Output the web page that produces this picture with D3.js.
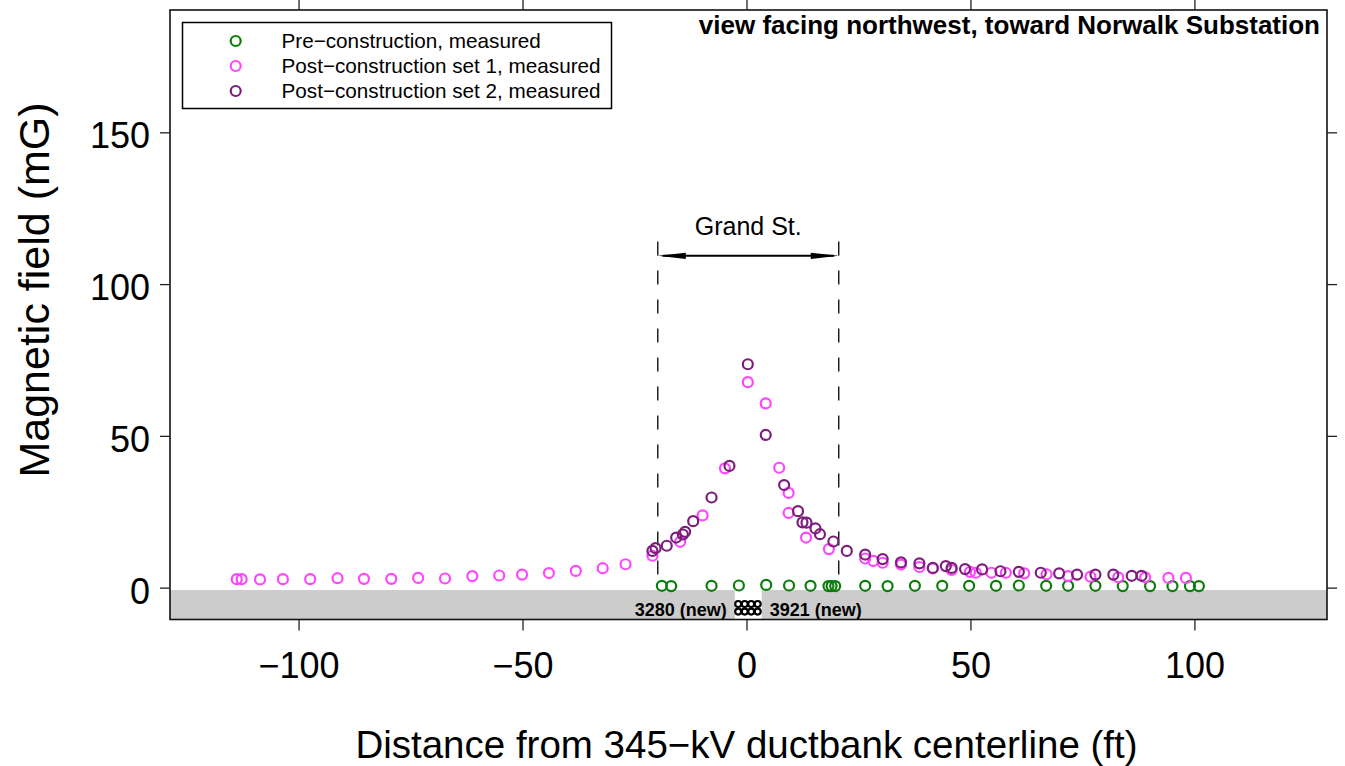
<!DOCTYPE html>
<html><head><meta charset="utf-8">
<script src="https://cdn.jsdelivr.net/npm/d3@7"></script>
<style>
html,body{margin:0;padding:0;background:#fff;}
svg{display:block;font-family:"Liberation Sans",Arial,Helvetica,sans-serif;}
</style></head><body>
<svg id="chart" width="1345" height="766"></svg>
<script>
// Lateral profile of magnetic field across the 345-kV ductbank (distance in ft, field in mG)
const preX = [-18.9, -16.8, -7.8, -1.7, 4.4, 9.5, 14.3, 18.3, 19.0, 19.8, 26.5, 31.5, 37.6, 43.7, 49.7, 55.7, 60.8, 66.9, 71.8, 77.9, 84.0, 90.1, 95.1, 99.0, 101.0];
const preY = [0.6, 0.5, 0.6, 0.7, 0.9, 0.7, 0.6, 0.5, 0.5, 0.5, 0.6, 0.5, 0.6, 0.6, 0.6, 0.6, 0.7, 0.6, 0.6, 0.6, 0.5, 0.5, 0.5, 0.5, 0.5];

const post1X = [-113.8, -112.7, -108.6, -103.5, -97.4, -91.3, -85.4, -79.3, -73.3, -67.3, -61.2, -55.2, -50.1, -44.1, -38.1, -32.1, -27.0, -21.0,
  -14.8, -9.8, -4.8, 0.3, 4.3, 7.3, 9.4, 9.4, 13.3, 18.4,
  26.5, 28.3, 30.4, 34.5, 38.6, 41.6, 45.8, 49.9, 51.2, 54.7, 57.9, 62.0, 67.0, 71.8, 76.8, 83.0, 89.0, 94.2, 98.1];
const post1Y = [2.8, 2.8, 2.7, 2.8, 2.8, 3.1, 2.9, 2.9, 3.2, 3.0, 3.8, 4.0, 4.3, 4.8, 5.5, 6.4, 7.7, 10.5,
  15.1, 23.8, 39.3, 67.7, 60.7, 39.5, 31.2, 24.6, 16.5, 12.7,
  9.6, 8.8, 8.2, 7.6, 6.8, 6.3, 5.8, 5.2, 4.9, 4.9, 4.9, 4.7, 4.4, 3.8, 3.6, 3.4, 3.4, 3.2, 3.2];

const post2X = [-21.0, -20.3, -17.8, -15.7, -14.2, -13.7, -11.9, -7.8, -3.8, 0.3, 4.3, 8.4, 11.5, 12.5, 13.4, 15.4, 16.4, 19.4, 22.4,
  26.5, 30.4, 34.5, 38.6, 41.6, 44.5, 45.8, 48.8, 52.6, 56.7, 60.8, 65.7, 69.8, 73.8, 77.9, 81.9, 86.0, 88.2];
const post2Y = [12.1, 13.0, 13.8, 16.5, 17.5, 18.4, 21.9, 29.7, 40.1, 73.6, 50.3, 33.8, 25.2, 21.5, 21.4, 19.5, 17.6, 15.2, 12.1,
  10.9, 9.4, 8.3, 8.0, 6.5, 7.1, 6.5, 6.1, 6.0, 5.4, 5.2, 4.9, 4.7, 4.3, 4.3, 4.3, 3.9, 3.9];

const xTicks = [-100, -50, 0, 50, 100];
const yTicks = [0, 50, 100, 150];

const seriesNames = ["Pre\u2212construction, measured", "Post\u2212construction set 1, measured", "Post\u2212construction set 2, measured"];
const seriesColors = ["#0b7d0b", "#ff45ff", "#7b1f7b"];

// Street extent (ft) and the cable circuits in the ductbank
const streetEdges = [-19.8, 20.6];
const streetLabel = "Grand St.";
const cableLabels = ["3280 (new)", "3921 (new)"];
const cableCols = [-1.85, -0.4, 1.05, 2.5];
const cableRows = [-5.4, -7.9];
const viewNote = "view facing northwest, toward Norwalk Substation";
const xTitle = "Distance from 345\u2212kV ductbank centerline (ft)";
const yTitle = "Magnetic field (mG)";

const svg = d3.select("#chart");
const L = 170, R = 1327, T = 10, B = 619.5;
const x = d3.scaleLinear().domain([-128.7, 129.6]).range([L, R]);
const y = d3.scaleLinear().domain([-10.5, 190.3]).range([B, T]);
const minus = s => String(s).replace("-", "\u2212");
const ptR = 5, ptW = 2.2;

// ground strip with the trench opening
const groundTop = y(-0.8);
svg.append("rect").attr("x", L).attr("y", groundTop).attr("width", R - L).attr("height", B - groundTop).attr("fill", "#cccccc");
svg.append("rect").attr("x", x(-2.6)).attr("y", groundTop).attr("width", x(3.4) - x(-2.6)).attr("height", B - groundTop).attr("fill", "#ffffff");
const cables = [];
cableCols.forEach(cx => cableRows.forEach(cy => cables.push([cx, cy])));
svg.append("g").selectAll("circle").data(cables).join("circle")
  .attr("cx", d => x(d[0])).attr("cy", d => y(d[1])).attr("r", 3)
  .attr("fill", "none").attr("stroke", "#000").attr("stroke-width", 2.2);
svg.append("text").attr("x", x(-4.4)).attr("y", 615.5).attr("text-anchor", "end")
  .attr("font-size", 18).attr("font-weight", "bold").text(cableLabels[0]);
svg.append("text").attr("x", x(5.2)).attr("y", 615.5).attr("text-anchor", "start")
  .attr("font-size", 18).attr("font-weight", "bold").text(cableLabels[1]);

// street edges and width arrow
const arrowY = y(109.3);
svg.append("g").selectAll("line").data(streetEdges).join("line")
  .attr("x1", d => x(d)).attr("x2", d => x(d)).attr("y1", y(114)).attr("y2", groundTop)
  .attr("stroke", "#000").attr("stroke-width", 1.3).attr("stroke-dasharray", "14,15");
const ax0 = x(streetEdges[0]), ax1 = x(streetEdges[1]);
svg.append("line").attr("x1", ax0 + 5).attr("x2", ax1 - 5).attr("y1", arrowY).attr("y2", arrowY)
  .attr("stroke", "#000").attr("stroke-width", 2);
svg.append("path").attr("d", `M${ax0},${arrowY}L${ax0 + 28},${arrowY - 3.2}L${ax0 + 28},${arrowY + 3.2}Z`).attr("fill", "#000");
svg.append("path").attr("d", `M${ax1},${arrowY}L${ax1 - 28},${arrowY - 3.2}L${ax1 - 28},${arrowY + 3.2}Z`).attr("fill", "#000");
svg.append("text").attr("x", (ax0 + ax1) / 2).attr("y", arrowY - 20.5).attr("text-anchor", "middle")
  .attr("font-size", 25).text(streetLabel);

// measured points
const series = [
  d3.zip(preX, preY),
  d3.zip(post1X, post1Y),
  d3.zip(post2X, post2Y)
];
series.forEach((pts, i) => {
  svg.append("g").selectAll("circle").data(pts).join("circle")
    .attr("cx", d => x(d[0])).attr("cy", d => y(d[1])).attr("r", ptR)
    .attr("fill", "none").attr("stroke", seriesColors[i]).attr("stroke-width", ptW);
});

// frame and axes
svg.append("rect").attr("x", L).attr("y", T).attr("width", R - L).attr("height", B - T)
  .attr("fill", "none").attr("stroke", "#111").attr("stroke-width", 1.6);

const styleAxis = g => {
  g.select(".domain").remove();
  g.selectAll(".tick line").attr("stroke", "#222").attr("stroke-width", 1.3);
  g.selectAll("text").attr("font-family", "Liberation Sans, Arial, sans-serif").attr("fill", "#000");
};
svg.append("g").attr("transform", `translate(0,${B})`)
  .call(d3.axisBottom(x).tickValues(xTicks).tickSize(11).tickPadding(22).tickFormat(minus))
  .call(styleAxis).call(g => g.selectAll("text").attr("font-size", 36));
svg.append("g").attr("transform", `translate(0,${T})`)
  .call(d3.axisTop(x).tickValues(xTicks).tickSize(10).tickFormat(""))
  .call(styleAxis);
svg.append("g").attr("transform", `translate(${L},0)`)
  .call(d3.axisLeft(y).tickValues(yTicks).tickSize(10).tickPadding(10))
  .call(styleAxis).call(g => g.selectAll("text").attr("font-size", 36).attr("dy", "0.43em"));
svg.append("g").attr("transform", `translate(${R},0)`)
  .call(d3.axisRight(y).tickValues(yTicks).tickSize(10).tickFormat(""))
  .call(styleAxis);

svg.append("text").attr("x", x(0)).attr("y", 758).attr("text-anchor", "middle")
  .attr("font-size", 38.5).text(xTitle);
svg.append("text").attr("transform", "translate(49,290) rotate(-90)").attr("text-anchor", "middle")
  .attr("font-size", 43).text(yTitle);

// note and legend
svg.append("text").attr("x", 1320).attr("y", 34).attr("text-anchor", "end")
  .attr("font-size", 26).attr("font-weight", "bold").text(viewNote);

const lg = svg.append("g");
lg.append("rect").attr("x", 182.5).attr("y", 22.5).attr("width", 429).attr("height", 86)
  .attr("fill", "#fff").attr("stroke", "#000").attr("stroke-width", 1.5);
seriesNames.forEach((name, i) => {
  const cy = 41 + i * 25;
  lg.append("circle").attr("cx", 235.7).attr("cy", cy).attr("r", ptR)
    .attr("fill", "none").attr("stroke", seriesColors[i]).attr("stroke-width", ptW);
  lg.append("text").attr("x", 281.5).attr("y", cy + 7.3).attr("font-size", 20.7).text(name);
});
</script>
</body></html>
